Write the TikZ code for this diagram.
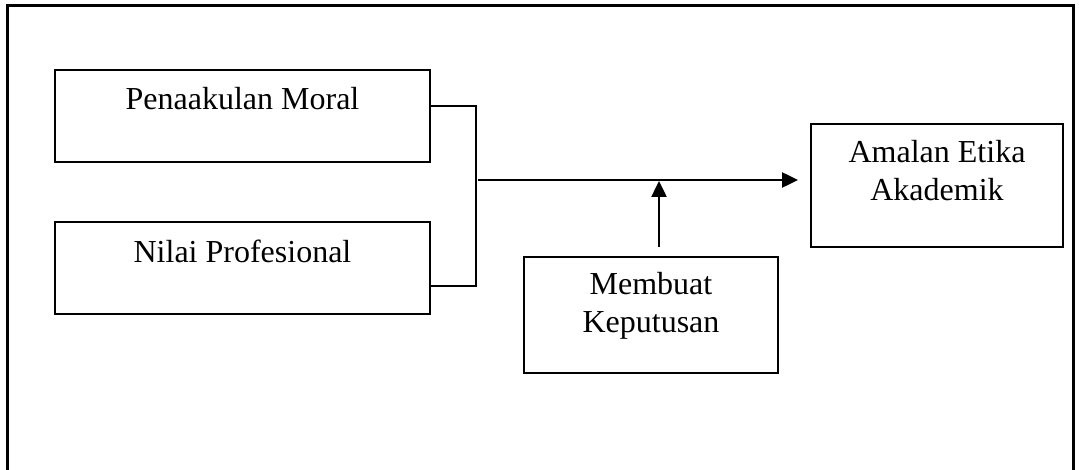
\documentclass[tikz,border=0pt]{standalone}
\usepackage{fontspec}
\setmainfont{Liberation Serif}
\usetikzlibrary{arrows.meta,calc}
\tikzset{
  box/.style={draw, line width=2pt, inner sep=0pt, align=center, anchor=base,
    font=\fontsize{32}{38}\selectfont},
  link/.style={line width=2pt},
  flow/.style={line width=2.5pt, -{Triangle[length=16pt,width=15pt]}},
}
\begin{document}
\begin{tikzpicture}[x=1pt,y=-1pt]
\useasboundingbox (0,0) rectangle (1079,470);
\clip (0,0) rectangle (1079,470);
\draw[line width=3pt] (7,480) -- (7,6) -- (1073,6) -- (1073,480);
\node[box, minimum width=375pt, text height=40pt, text depth=52pt] (pm) at (242.5,110) {Penaakulan Moral};
\node[box, minimum width=375pt, text height=41pt, text depth=51pt] (np) at (242.5,263) {Nilai Profesional};
\node[box, minimum width=252pt, text height=77pt, text depth=46pt] (ae) at (937,201) {Amalan Etika\\Akademik};
\node[box, minimum width=254pt, text height=76pt, text depth=40pt] (mk) at (651,333) {Membuat\\Keputusan};
\coordinate (c1) at (476,106);
\coordinate (c2) at (476,286);
\coordinate (m0) at (478,180);
\coordinate (u) at (659,181);
\draw[link] (pm.east |- c1) -- (c1) -- (c2) -- (np.east |- c2);
\draw[flow, shorten >=12pt] (m0) -- (ae.west |- m0);
\draw[flow] (mk.north -| u) ++(0,-9) -- (u);
\end{tikzpicture}
\end{document}
